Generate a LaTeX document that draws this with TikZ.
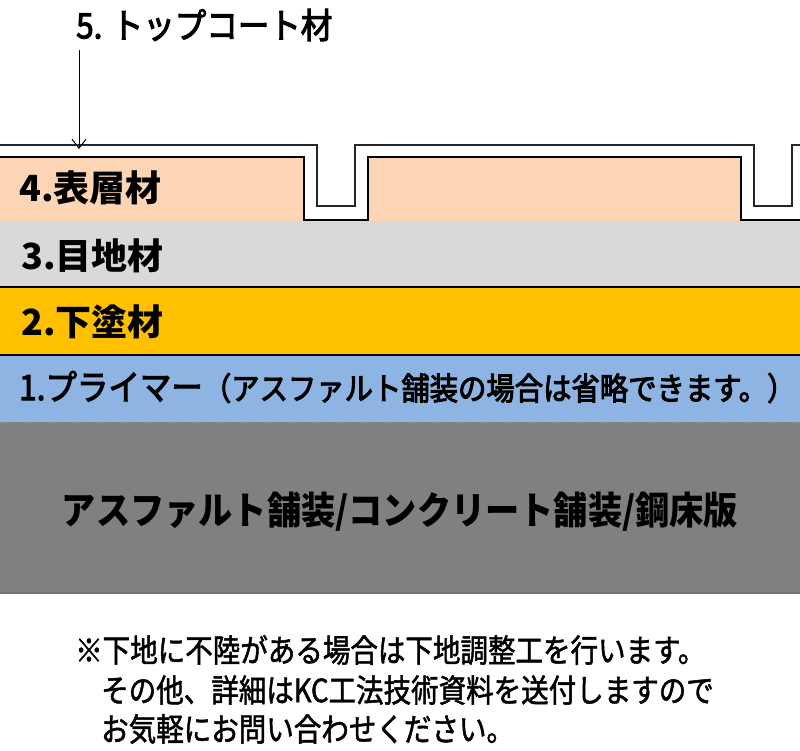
\documentclass[tikz,border=0pt]{standalone}
\usepackage{fontspec}
\usetikzlibrary{arrows.meta}
\newfontfamily\jp{Noto Sans CJK JP}
\newfontfamily\jpn[FakeStretch=0.9]{Noto Sans CJK JP}
\newfontfamily\jpm[FakeStretch=0.9,FakeBold=3]{Noto Sans CJK JP}
\newfontfamily\jpnote[FakeStretch=0.86,FakeBold=1.5]{Noto Sans CJK JP}
\definecolor{peach}{HTML}{FCD5B5}
\definecolor{lgray}{HTML}{D9D9D9}
\definecolor{amber}{HTML}{FFC000}
\definecolor{lblue}{HTML}{8EB4E3}
\definecolor{dgray}{HTML}{808080}
\tikzset{
  layer/.style={draw=black, line width=1.5pt},
  tile/.style={draw=black, line width=1.5pt, fill=peach},
  topcoat/.style={draw=black!85, line width=1.4pt},
  lbl/.style={anchor=west, inner sep=0pt, font=\jp\bfseries\fontsize{36}{38}\selectfont},
  note/.style={anchor=west, inner sep=0pt, font=\jpnote\fontsize{32}{34}\selectfont},
}
\begin{document}
\begin{tikzpicture}[x=1pt,y=-1pt]
\useasboundingbox (0,0) rectangle (800,750);
% layers
\fill[lgray] (0,220) rectangle (800,287);
\fill[amber] (0,287) rectangle (800,355);
\fill[lblue] (0,355) rectangle (800,422);
\fill[dgray] (0,422) rectangle (800,593);
\draw[layer] (0,220) -- (800,220);
\draw[layer] (0,287) -- (800,287);
\draw[layer] (0,355) -- (800,355);
\draw[black!45, line width=0.8pt, dashed] (0,422) -- (800,422);
\draw[black!55, line width=1.2pt] (0,593) -- (800,593);
% tiles
\draw[tile] (-2,221) -- (-2,157) -- (304,157) -- (304,221);
\draw[tile] (368,221) -- (368,157) -- (741,157) -- (741,221);
% top coat
\draw[topcoat] (0,145) -- (317,145) -- (317,206) -- (355,206) -- (355,145)
  -- (754,145) -- (754,206) -- (792,206) -- (792,145) -- (801,145);
% labels
\node[lbl] (l4) at (19,188) {4.表層材};
\node[lbl] (l3) at (21,256) {3.目地材};
\node[lbl] (l2) at (21,322) {2.下塗材};
\node[lbl, font=\jpm\fontsize{35}{37}\selectfont] (l1) at (19,387) {1.プライマー{\fontsize{31.5}{33}\selectfont（アスファルト舗装の場合は省略できます。）}};
\node[anchor=center, inner sep=0pt, font=\jpn\bfseries\fontsize{38}{40}\selectfont] (base) at (400,512) {アスファルト舗装/コンクリート舗装/鋼床版};
\node[anchor=west, inner sep=0pt, font=\jpm\fontsize{35}{37}\selectfont] (l5) at (76,25) {5. トップコート材};
\coordinate (a0) at (79,50);
\coordinate (a1) at (79,149);
\draw[line width=1pt, -{Straight Barb[length=9pt,width=14pt]}] (a0) -- (a1);
% notes
\node[note] (n1) at (75,650) {※下地に不陸がある場合は下地調整工を行います。};
\node[note] (n2) at (101,690) {その他、詳細はKC工法技術資料を送付しますので};
\node[note] (n3) at (101,729) {お気軽にお問い合わせください。};
\end{tikzpicture}
\end{document}
